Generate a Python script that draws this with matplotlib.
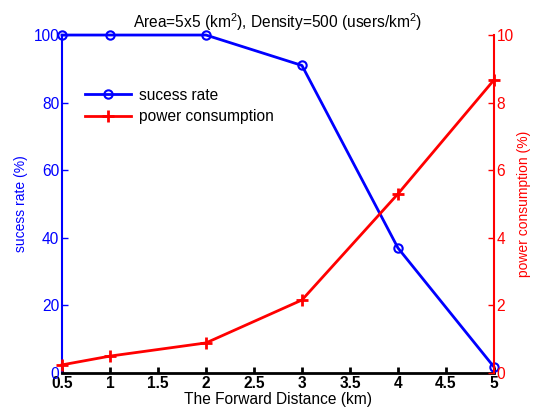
import matplotlib.pyplot as plt

plt.rcParams['font.family'] = ['Liberation Sans', 'DejaVu Sans']
plt.rcParams['mathtext.fontset'] = 'custom'
plt.rcParams['mathtext.rm'] = 'Liberation Sans'

distance = [0.5, 1, 2, 3, 4, 5]
success_rate = [100, 100, 100, 91, 37, 1.8]
power = [0.24, 0.5, 0.89, 2.16, 5.3, 8.67]
xticks = [0.5, 1, 1.5, 2, 2.5, 3, 3.5, 4, 4.5, 5]

fs = 11.2

fig = plt.figure(figsize=(5.34, 4.17), dpi=100)
ax = fig.add_axes([0.116, 0.1055, 0.809, 0.8105])
ax2 = ax.twinx()

l1, = ax.plot(distance, success_rate, color='blue', lw=2, marker='o',
              markersize=6, markerfacecolor='none', markeredgewidth=1.5,
              label='sucess rate', clip_on=False, zorder=5)
l2, = ax2.plot(distance, power, color='red', lw=2, marker='+',
               markersize=9, markeredgewidth=2, label='power consumption',
               clip_on=False)

ax.set_xlim(0.5, 5)
ax.set_ylim(0, 100)
ax2.set_ylim(0, 10)
ax.set_xticks(xticks)
ax.set_xticklabels(['%g' % t for t in xticks], fontweight='bold', fontsize=fs)
ax.set_yticks(range(0, 101, 20))
ax2.set_yticks(range(0, 11, 2))

for a in (ax, ax2):
    a.spines['top'].set_visible(False)
    a.tick_params(direction='in', length=4, width=1, pad=2)
ax.spines['left'].set_color('blue')
ax.spines['right'].set_visible(False)
ax.spines['bottom'].set_linewidth(2)
ax.spines['left'].set_linewidth(1.5)
ax2.spines['left'].set_visible(False)
ax2.spines['bottom'].set_visible(False)
ax2.spines['right'].set_color('red')
ax2.spines['right'].set_linewidth(1.5)
ax.tick_params(axis='y', colors='blue', labelsize=fs)
ax.tick_params(axis='x', width=2, labelsize=fs)
ax2.tick_params(axis='y', colors='red', labelsize=fs)

ax.set_xlabel('The Forward Distance (km)', fontsize=fs, labelpad=1)
ax.set_ylabel('sucess rate (%)', color='blue', fontsize=10, labelpad=4)
ax2.set_ylabel('power consumption (%)', color='red', fontsize=10, labelpad=2)
ax.set_title('Area=5x5 (km$^2$), Density=500 (users/km$^2$)', fontsize=fs, pad=5)

ax.legend([l1, l2], ['sucess rate', 'power consumption'], loc='upper left',
          bbox_to_anchor=(0.02, 0.885), frameon=False, fontsize=fs,
          handlelength=3, labelspacing=0.4, handletextpad=0.5)

fig.savefig('out.png', dpi=100)
